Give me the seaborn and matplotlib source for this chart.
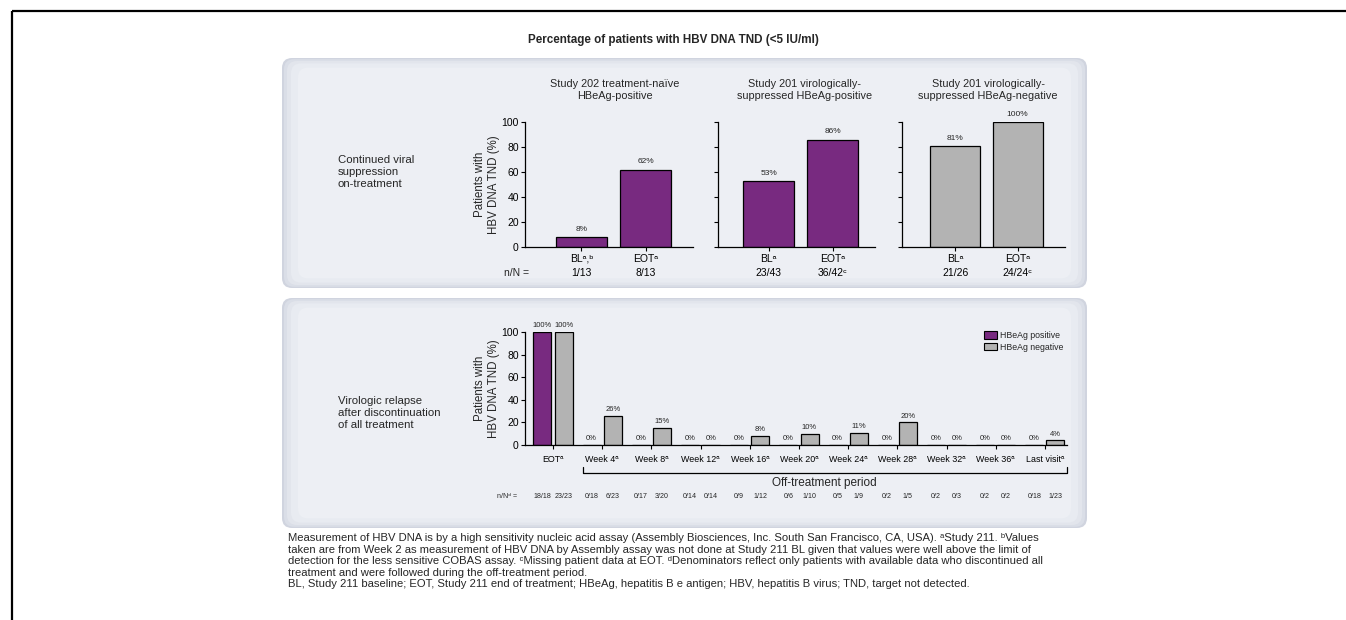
import pandas as pd
import seaborn as sns
import matplotlib.pyplot as plt
from matplotlib.patches import FancyBboxPatch

# ---- data ----
top_titles = [
    "Study 202 treatment-naïve\nHBeAg-positive",
    "Study 201 virologically-\nsuppressed HBeAg-positive",
    "Study 201 virologically-\nsuppressed HBeAg-negative",
]
top_ticks = [
    ["BLᵃ,ᵇ\n1/13", "EOTᵃ\n8/13"],
    ["BLᵃ\n23/43", "EOTᵃ\n36/42ᶜ"],
    ["BLᵃ\n21/26", "EOTᵃ\n24/24ᶜ"],
]
top_values = [[8, 62], [53, 86], [81, 100]]
top_status = ["HBeAg positive", "HBeAg positive", "HBeAg negative"]

timepoints = ["EOTᵃ", "Week 4ᵃ", "Week 8ᵃ", "Week 12ᵃ", "Week 16ᵃ", "Week 20ᵃ",
              "Week 24ᵃ", "Week 28ᵃ", "Week 32ᵃ", "Week 36ᵃ", "Last visitᵃ"]
pos_values = [100, 0, 0, 0, 0, 0, 0, 0, 0, 0, 0]
neg_values = [100, 26, 15, 0, 8, 10, 11, 20, 0, 0, 4]
pos_counts = ["18/18", "0/18", "0/17", "0/14", "0/9", "0/6", "0/5", "0/2", "0/2", "0/2", "0/18"]
neg_counts = ["23/23", "6/23", "3/20", "0/14", "1/12", "1/10", "1/9", "1/5", "0/3", "0/2", "1/23"]

footnote = (
    "Measurement of HBV DNA is by a high sensitivity nucleic acid assay (Assembly Biosciences, Inc. South San Francisco, CA, USA). ᵃStudy 211. ᵇValues\n"
    "taken are from Week 2 as measurement of HBV DNA by Assembly assay was not done at Study 211 BL given that values were well above the limit of\n"
    "detection for the less sensitive COBAS assay. ᶜMissing patient data at EOT. ᵈDenominators reflect only patients with available data who discontinued all\n"
    "treatment and were followed during the off-treatment period.\n"
    "BL, Study 211 baseline; EOT, Study 211 end of treatment; HBeAg, hepatitis B e antigen; HBV, hepatitis B virus; TND, target not detected."
)

PURPLE = "#782a80"
GRAY = "#b3b3b3"
palette = {"HBeAg positive": PURPLE, "HBeAg negative": GRAY}

W, H = 1346, 620

sns.set_style("white")
plt.rcParams["font.family"] = ["Liberation Sans", "DejaVu Sans"]
plt.rcParams["axes.edgecolor"] = "black"
plt.rcParams["axes.linewidth"] = 0.9


def rect(x0, y0, x1, y1):
    # pixel box (top-left origin) -> figure fraction
    return [x0 / W, 1 - y1 / H, (x1 - x0) / W, (y1 - y0) / H]


def style_axis(ax, fs):
    sns.despine(ax=ax)
    ax.tick_params(axis="both", which="both", bottom=True, left=True, direction="out",
                   length=3, width=0.8, color="black", labelsize=fs, labelcolor="black")
    ax.tick_params(axis="y", pad=1.5)
    ax.set_facecolor("none")
    ax.set_ylim(0, 100)
    ax.set_yticks([0, 20, 40, 60, 80, 100])
    ax.set_xlabel("")


fig = plt.figure(figsize=(W / 100, H / 100), dpi=100)

# background layer in pixel coordinates
bg = fig.add_axes([0, 0, 1, 1], zorder=-5)
bg.set_xlim(0, W)
bg.set_ylim(H, 0)
bg.axis("off")

bg.plot([12, W], [11, 11], color="black", lw=1.6, solid_capstyle="butt")
bg.plot([12, 12], [11, H], color="black", lw=1.6, solid_capstyle="butt")

shades = [("#d0d4df", 0), ("#dadee7", 2), ("#e2e5ec", 5), ("#e8ebf1", 9), ("#edeff4", 16)]
for (py0, py1) in [(58, 288), (298, 528)]:
    for col, inset in shades:
        bg.add_patch(FancyBboxPatch((282 + inset, py0 + inset * 0.6),
                                    1087 - 282 - 2 * inset, py1 - py0 - inset * 1.2,
                                    boxstyle="round,pad=0,rounding_size=10",
                                    facecolor=col, edgecolor="none"))

bg.text(673, 40, "Percentage of patients with HBV DNA TND (<5 IU/ml)", ha="center",
        va="center", fontsize=8.4, fontweight="bold")
bg.text(338, 172, "Continued viral\nsuppression\non-treatment", ha="left", va="center",
        fontsize=8.2, linespacing=1.25)
bg.text(338, 413, "Virologic relapse\nafter discontinuation\nof all treatment", ha="left",
        va="center", fontsize=8.2, linespacing=1.25)
bg.text(517, 273, "n/N =", ha="center", va="center", fontsize=7.5)
bg.text(517, 497, "n/Nᵈ =", ha="right", va="center", fontsize=5)
bg.text(288, 533, footnote, ha="left", va="top", fontsize=8.15, linespacing=1.19)

# ---- top row: on-treatment suppression ----
top_boxes = [(525, 693, (-0.88, 1.74), 615), (718, 875, (-0.79, 1.66), 805),
             (902, 1065, (-0.85, 1.76), 988)]
for i, (x0, x1, xl, tx) in enumerate(top_boxes):
    ax = fig.add_axes(rect(x0, 122, x1, 247))
    df = pd.DataFrame({"tp": top_ticks[i], "pct": top_values[i]})
    sns.barplot(data=df, x="tp", y="pct", color=palette[top_status[i]], saturation=1,
                width=0.8, edgecolor="black", linewidth=0.9, ax=ax)
    style_axis(ax, 7.5)
    ax.set_xlim(*xl)
    ax.tick_params(axis="x", pad=2)
    for lab in ax.get_xticklabels():
        lab.set_linespacing(1.45)
    ax.bar_label(ax.containers[0], labels=[f"{v}%" for v in top_values[i]],
                 padding=3, fontsize=6)
    if i == 0:
        ax.set_ylabel("Patients with\nHBV DNA TND (%)", fontsize=8.3, labelpad=1)
    else:
        ax.set_ylabel("")
        ax.set_yticklabels([])
    bg.text(tx, 90, top_titles[i], ha="center", va="center", fontsize=7.8,
            linespacing=1.2)

# ---- bottom row: off-treatment relapse ----
long = pd.DataFrame({
    "tp": timepoints * 2,
    "pct": pos_values + neg_values,
    "status": ["HBeAg positive"] * len(timepoints) + ["HBeAg negative"] * len(timepoints),
})
ax2 = fig.add_axes(rect(525, 332, 1067, 445))
sns.barplot(data=long, x="tp", y="pct", hue="status", palette=palette, saturation=1,
            width=0.86, gap=0.15, edgecolor="black", linewidth=0.9, ax=ax2)
style_axis(ax2, 7.5)
ax2.set_xlim(-0.57, 10.45)
ax2.tick_params(axis="x", labelsize=6.4, pad=4)
ax2.set_ylabel("Patients with\nHBV DNA TND (%)", fontsize=8.3, labelpad=1)
for cont, vals in zip(ax2.containers, [pos_values, neg_values]):
    ax2.bar_label(cont, labels=[f"{v}%" for v in vals], padding=2, fontsize=5.5)

xt = ax2.get_xaxis_transform()
off = 0.214
for k in range(len(timepoints)):
    ax2.text(k - off, -0.46, pos_counts[k], transform=xt, ha="center", va="center",
             fontsize=5.1)
    ax2.text(k + off, -0.46, neg_counts[k], transform=xt, ha="center", va="center",
             fontsize=5.1)

bx0, bx1 = 0.6, 10.44
ax2.plot([bx0, bx0, bx1, bx1], [-0.195, -0.25, -0.25, -0.195], transform=xt,
         color="black", lw=0.9, clip_on=False)
ax2.text((bx0 + bx1) / 2, -0.336, "Off-treatment period", transform=xt, ha="center",
         va="center", fontsize=8.5)

leg = ax2.legend(loc="upper right", bbox_to_anchor=(1.0, 1.04), frameon=False,
                 fontsize=6.3, handlelength=1.4, handleheight=0.9, handletextpad=0.4,
                 labelspacing=0.3, borderaxespad=0)
for h in leg.legend_handles:
    h.set_edgecolor("black")
    h.set_linewidth(0.8)

fig.savefig("out.png", dpi=100)
plt.close(fig)
